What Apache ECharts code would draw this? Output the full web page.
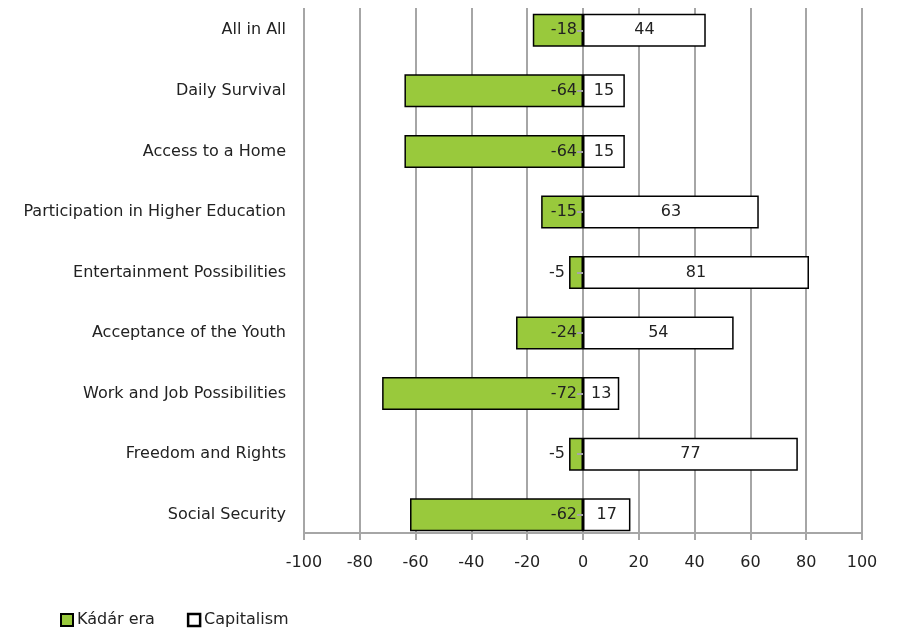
<!DOCTYPE html>
<html><head><meta charset="utf-8">
<script src="https://cdn.jsdelivr.net/npm/echarts@6/dist/echarts.min.js"></script>
<style>html,body{margin:0;padding:0;background:#fff}#c{width:897px;height:629px}</style>
</head><body><div id="c"></div>
<script>
const categories = ["All in All","Daily Survival","Access to a Home","Participation in Higher Education","Entertainment Possibilities","Acceptance of the Youth","Work and Job Possibilities","Freedom and Rights","Social Security"];
const kadarEra = [-18,-64,-64,-15,-5,-24,-72,-5,-62];
const capitalism = [44,15,15,63,81,54,13,77,17];
const xTicks = {min:-100, max:100, interval:20};

const FONT = 'DejaVu Sans';
const TXT = '#222';
const GRID = '#a6a6a6';
const chart = echarts.init(document.getElementById('c'));
chart.setOption({
  animation:false,
  textStyle:{fontFamily:FONT},
  grid:[
    {left:304, right:35, top:8, bottom:96},
    {left:304, right:35, top:0, bottom:84}
  ],
  xAxis:[
    {gridIndex:0, type:'value', min:xTicks.min, max:xTicks.max, interval:xTicks.interval,
     axisLine:{show:true, lineStyle:{color:GRID, width:2}},
     axisTick:{show:true, length:7, lineStyle:{color:GRID, width:2}},
     splitLine:{show:true, lineStyle:{color:GRID, width:2}},
     axisLabel:{color:TXT, fontSize:16, fontFamily:FONT, margin:22}},
    {gridIndex:1, type:'value', min:xTicks.min, max:xTicks.max, interval:xTicks.interval, show:false}
  ],
  yAxis:[
    {gridIndex:0, type:'category', data:categories, show:false},
    {gridIndex:1, type:'category', data:categories, inverse:true,
     axisLine:{show:false, onZero:false}, axisTick:{show:false},
     axisLabel:{color:TXT, fontSize:16, fontFamily:FONT, margin:18}},
    {gridIndex:1, type:'category', data:categories, inverse:true, z:10,
     axisLine:{show:false, onZero:true},
     axisTick:{show:true, inside:true, alignWithLabel:true, length:6, lineStyle:{color:GRID, width:2}},
     axisLabel:{show:false}}
  ],
  legend:{left:60, top:612, padding:0, itemWidth:12, itemHeight:12, itemGap:32, icon:'rect',
    textStyle:{color:TXT, fontSize:16, fontFamily:FONT, padding:[0,0,0,-1]},
    data:['Kádár era',{name:'Capitalism', itemStyle:{borderWidth:2.5, borderColor:'#000'}}]},
  series:[
    {name:'Kádár era', type:'bar', xAxisIndex:1, yAxisIndex:1, barWidth:33, barGap:'-100%',
     itemStyle:{color:'#99c93c', borderColor:'#000', borderWidth:1.5},
     label:{show:true, position:'insideRight', color:TXT, fontSize:16, fontFamily:FONT, distance:6},
     data:kadarEra.map(v => Math.abs(v) < 10 ? {value:v, label:{position:'left', distance:4}} : v)},
    {name:'Capitalism', type:'bar', xAxisIndex:1, yAxisIndex:1, barWidth:33, barGap:'-100%',
     itemStyle:{color:'#ffffff', borderColor:'#000', borderWidth:1.5},
     label:{show:true, position:'inside', color:TXT, fontSize:16, fontFamily:FONT},
     data:capitalism}
  ]
});
</script></body></html>
